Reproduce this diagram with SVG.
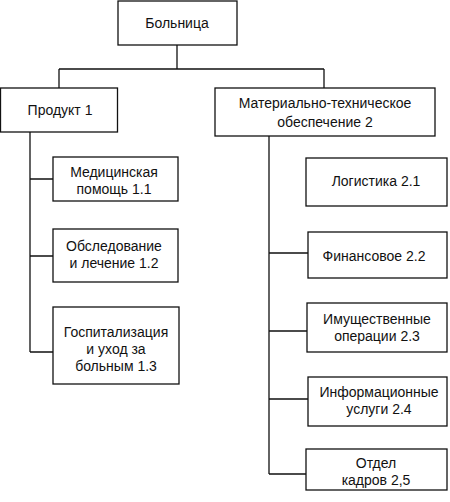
<svg xmlns="http://www.w3.org/2000/svg" width="450" height="502" viewBox="0 0 450 502">
<style>
rect{fill:#fff;stroke:#111;stroke-width:1.3}
text{font-family:"Liberation Sans",Arial,sans-serif;font-size:14px;fill:#111;text-anchor:middle}
.c{fill:none;stroke:#111;stroke-width:1.3}
</style>
<rect x="0" y="0" width="450" height="502" style="stroke:none"/>
<g id="connectors">
<path class="c" d="M177 45V69M59 69H324M59 69V88M324 69V88"/>
<path class="c" d="M30 132V352M30 179H53M30 256H53M30 352H53"/>
<path class="c" d="M269 136V474M269 253H308M269 331H307M269 399H308M269 474H306"/>
</g>
<g id="n0"><rect x="118" y="1" width="119" height="44"/><text x="177" y="28">Больница</text></g>
<g id="n1"><rect x="0.5" y="88" width="117" height="44"/><text x="60" y="115">Продукт 1</text></g>
<g id="n2"><rect x="215" y="88" width="220" height="48"/><text x="325" y="108">Материально-техническое</text><text x="325" y="127">обеспечение 2</text></g>
<g id="n11"><rect x="53" y="157" width="125" height="44"/><text x="114" y="177">Медицинская</text><text x="114" y="194">помощь 1.1</text></g>
<g id="n12"><rect x="53" y="229" width="125" height="53"/><text x="114" y="251">Обследование</text><text x="114" y="268">и лечение 1.2</text></g>
<g id="n13"><rect x="53" y="307" width="126" height="77"/><text x="116" y="337">Госпитализация</text><text x="116" y="354">и уход за</text><text x="116" y="371">больным 1.3</text></g>
<g id="n21"><rect x="306" y="158" width="141" height="48"/><text x="376" y="186">Логистика 2.1</text></g>
<g id="n22"><rect x="308" y="232" width="139" height="46"/><text x="374" y="261">Финансовое 2.2</text></g>
<g id="n23"><rect x="307" y="303" width="140" height="49"/><text x="377" y="324">Имущественные</text><text x="377" y="341">операции 2.3</text></g>
<g id="n24"><rect x="308" y="377" width="139" height="49"/><text x="379" y="397">Информационные</text><text x="379" y="414">услуги 2.4</text></g>
<g id="n25"><rect x="306" y="449" width="141" height="41"/><text x="376" y="468">Отдел</text><text x="376" y="485">кадров 2,5</text></g>
</svg>
